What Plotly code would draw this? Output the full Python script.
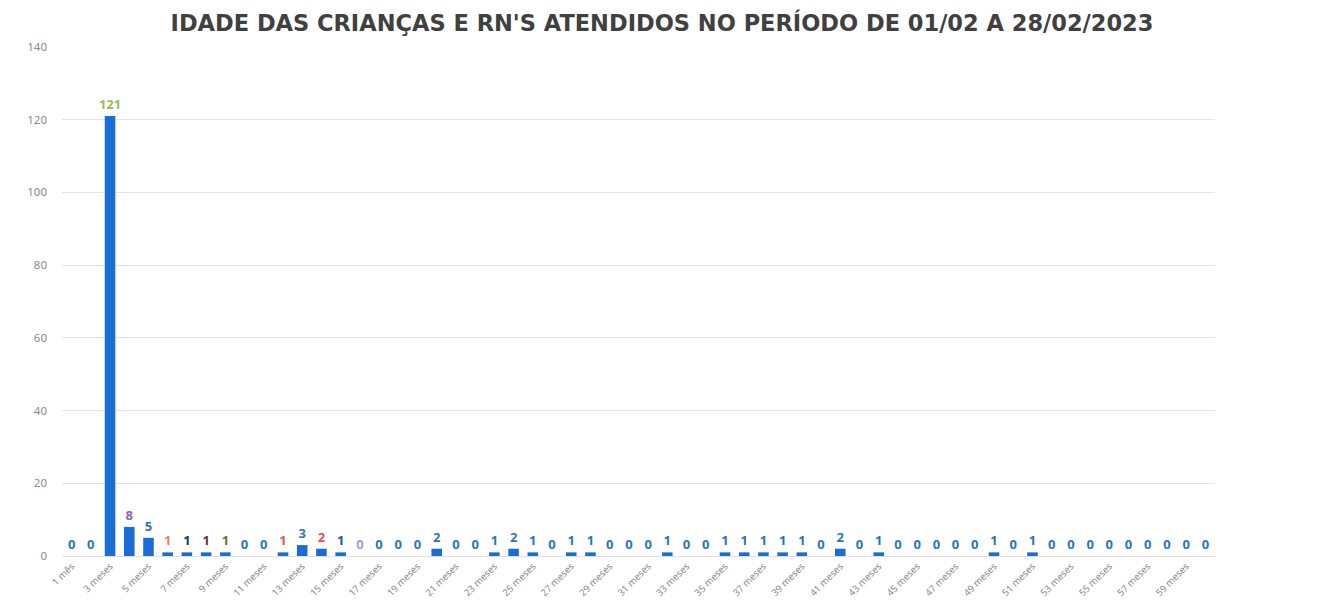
import plotly.graph_objects as go

months = ["1 mês"] + [f"{i} meses" for i in range(2, 61)]
values = [0, 0, 121, 8, 5, 1, 1, 1, 1, 0,
          0, 1, 3, 2, 1, 0, 0, 0, 0, 2,
          0, 0, 1, 2, 1, 0, 1, 1, 0, 0,
          0, 1, 0, 0, 1, 1, 1, 1, 1, 0,
          2, 0, 1, 0, 0, 0, 0, 0, 1, 0,
          1, 0, 0, 0, 0, 0, 0, 0, 0, 0]
y_ticks = [0, 20, 40, 60, 80, 100, 120, 140]
title = "IDADE DAS CRIANÇAS E RN'S ATENDIDOS NO PERÍODO DE 01/02 A 28/02/2023"

BLUE_LBL = "#2e75b6"
label_colors = [BLUE_LBL] * len(values)
special = {2: "#9bbb59", 3: "#7f68c8", 5: "#f27a6e", 6: "#1f3864", 7: "#7b2c3c",
           8: "#6b7a2a", 11: "#e8554e", 13: "#e84a5f", 14: "#2f5597", 15: "#a89cc8"}
for k, c in special.items():
    label_colors[k] = c

fig = go.Figure()
fig.add_trace(go.Bar(
    x=months, y=values,
    marker=dict(color="#1a6dd6", line=dict(width=0)),
    width=0.55,
    text=[str(v) for v in values],
    textposition="outside",
    constraintext="none",
    cliponaxis=False,
    textfont=dict(family="Noto Sans", size=13, color=label_colors, weight="bold"),
))

fig.update_layout(
    width=1315, height=592,
    paper_bgcolor="white", plot_bgcolor="white",
    margin=dict(l=54, r=108, t=39, b=44),
    title=dict(text=f"<b>{title}</b>", x=654 / 1315, xanchor="center", y=1 - 15 / 592, yanchor="middle",
               font=dict(family="DejaVu Sans", size=22.5, color="#404040")),
    showlegend=False,
    bargap=0.45,
)
fig.update_xaxes(
    type="category",
    tickmode="array", tickvals=months[::2], ticktext=months[::2],
    tickangle=-45, tickfont=dict(family="Noto Sans", size=9.5, color="#888888"),
    showgrid=False, showline=True, linecolor="#e0e0e0", ticks="",
    automargin=False,
)
fig.update_yaxes(
    range=[0, 140], tickvals=y_ticks,
    tickfont=dict(family="Noto Sans", size=11.5, color="#8a8a8a"),
    showgrid=True, gridcolor="#e4e4e4", zeroline=False, showline=False,
    ticklabelstandoff=14, automargin=False,
)
fig.write_html("out.html")
